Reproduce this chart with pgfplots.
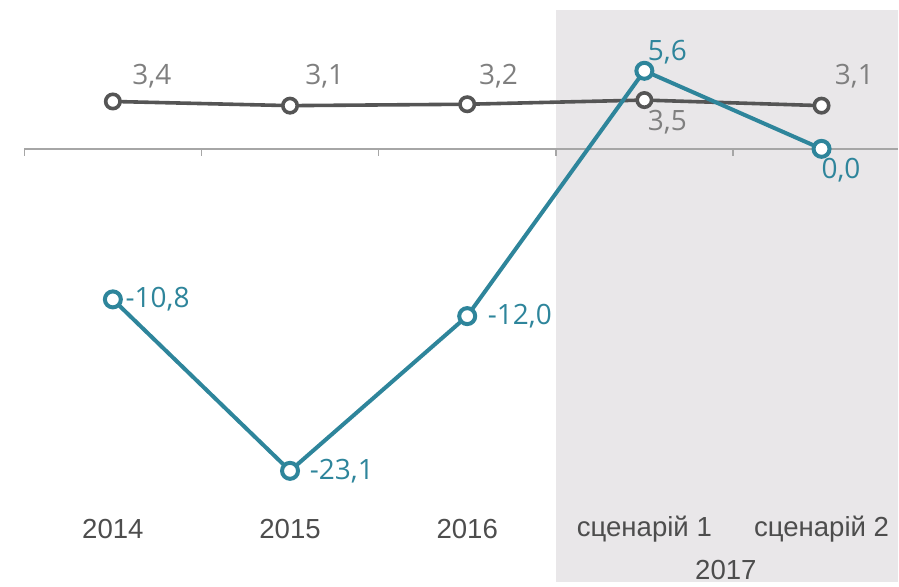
\documentclass[border=0pt]{standalone}
\usepackage{fontspec}
\setmainfont{Liberation Sans}
\newfontfamily\lblfont{Open Sans}
\usepackage{pgfplots}
\pgfplotsset{compat=1.18}
\definecolor{tealline}{HTML}{2E859B}
\definecolor{dgray}{HTML}{555555}
\definecolor{lblgray}{HTML}{7F7F7F}
\definecolor{bgshade}{HTML}{E9E7E9}
\definecolor{axgray}{HTML}{A6A6A6}
\definecolor{cattext}{HTML}{4D4D4D}
\begin{document}
\begin{tikzpicture}
\begin{axis}[
  scale only axis,
  width=449.5pt, height=291pt,
  xmin=-0.637, xmax=4.433,
  ymin=-31.04, ymax=10.68,
  hide axis, clip=false,
]
  % keep the full frame in the bounding box
  \path (axis cs:-0.637,-31.04) rectangle (axis cs:4.433,10.68);
  % shaded 2017 block
  \fill[bgshade] (axis cs:2.5,9.96) rectangle (axis cs:4.433,-31.04);
  % category axis at zero
  \draw[axgray, line width=0.75pt] (axis cs:-0.5,0) -- (axis cs:4.433,0);
  \pgfplotsinvokeforeach{-0.5,0.5,1.5,2.5,3.5}{
    \draw[axgray, line width=0.75pt] (axis cs:#1,0) -- (axis cs:#1,-0.5);
  }

  \addplot[dgray, line width=1.8pt, mark=*, mark size=3.6pt,
           mark options={fill=white, draw=dgray, line width=1.8pt}]
    coordinates {(0,3.4) (1,3.1) (2,3.2) (3,3.5) (4,3.1)};
  \addplot[tealline, line width=2pt, mark=*, mark size=4pt,
           mark options={fill=white, draw=tealline, line width=2pt}]
    coordinates {(0,-10.8) (1,-23.1) (2,-12.0) (3,5.6) (4,0.0)};

  % data labels
  \begin{scope}[every node/.style={font=\lblfont\fontsize{14}{16}\selectfont}]
    \node[lblgray] at (axis cs:0.22,5.23) {3,4};
    \node[lblgray] at (axis cs:1.196,5.23) {3,1};
    \node[lblgray] at (axis cs:2.177,5.23) {3,2};
    \node[lblgray] at (axis cs:3.13,1.94) {3,5};
    \node[lblgray] at (axis cs:4.185,5.23) {3,1};
    \node[tealline, anchor=west, inner sep=0pt] at (axis cs:0.07,-10.8) {-10,8};
    \node[tealline, anchor=west, inner sep=0pt] at (axis cs:1.11,-23.1) {-23,1};
    \node[tealline, anchor=west, inner sep=0pt] at (axis cs:2.115,-12.0) {-12,0};
    \node[tealline] at (axis cs:3.13,6.95) {5,6};
    \node[tealline] at (axis cs:4.11,-1.5) {0,0};
  \end{scope}

  % category labels
  \begin{scope}[every node/.style={font=\fontsize{13.8}{16}\selectfont, text=cattext}]
    \node at (axis cs:0,-27.3) {2014};
    \node at (axis cs:1,-27.3) {2015};
    \node at (axis cs:2,-27.3) {2016};
    \node at (axis cs:3,-27.3) {сценарій 1};
    \node at (axis cs:4,-27.3) {сценарій 2};
    \node at (axis cs:3.46,-30.2) {2017};
  \end{scope}
\end{axis}
\end{tikzpicture}
\end{document}
